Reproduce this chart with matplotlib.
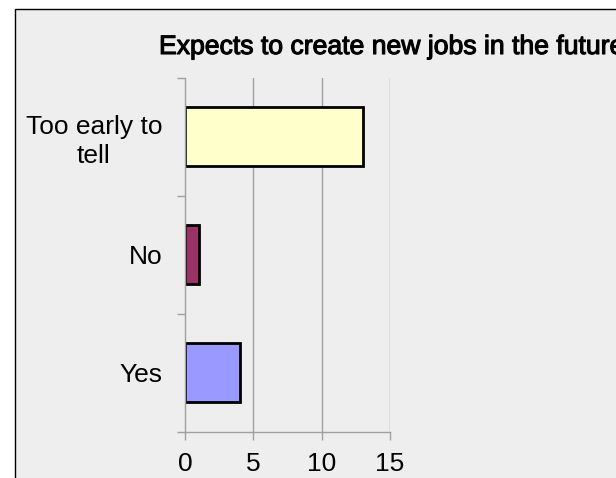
import matplotlib
matplotlib.use("Agg")
import matplotlib.pyplot as plt
import matplotlib.patheffects as pe
from matplotlib.patches import Rectangle

categories = ["Yes", "No", "Too early to\ntell"]
counts = [4, 1, 13]
bar_colors = ["#9999FF", "#993366", "#FFFFCC"]
x_ticks = [0, 5, 10, 15]
title = "Expects to create new jobs in the future"

plt.rcParams["font.family"] = ["Liberation Sans", "DejaVu Sans"]

W, H = 616, 478
fig = plt.figure(figsize=(W / 100, H / 100), dpi=100, facecolor="white")

# chart area panel with a thin black border
panel = Rectangle((15 / W, -0.1), 1.2, 1.1 - 9.5 / H, transform=fig.transFigure,
                  facecolor="#EEEEEE", edgecolor="black", linewidth=1.0, zorder=-5)
fig.patches.append(panel)

ax = fig.add_axes([185 / W, 1 - 431.5 / H, (390 - 185) / W, (431.5 - 78) / H])
ax.set_zorder(2)
ax.set_facecolor("#EEEEEE")

pos = list(range(len(categories)))
ax.barh(pos, counts, height=0.5, color=bar_colors, edgecolor="black",
        linewidth=2.0, zorder=3)

ax.set_xlim(0, 15)
ax.set_ylim(-0.5, len(categories) - 0.5)

grid_c = "#A0A0A0"
ax.set_xticks(x_ticks)
ax.set_xticklabels([str(t) for t in x_ticks])
ax.tick_params(axis="x", length=5.5, width=1.0, color=grid_c, labelsize=19, pad=9.5)
for t in x_ticks[1:]:
    ax.axvline(t, color=grid_c, linewidth=1.0, zorder=1)

ax.set_yticks(pos)
ax.set_yticklabels(categories, ha="right", multialignment="center",
                   linespacing=1.25)
ax.tick_params(axis="y", which="major", length=0, labelsize=19, pad=16.5)
ax.set_yticks([p - 0.5 for p in pos] + [len(categories) - 0.5], minor=True)
ax.tick_params(axis="y", which="minor", length=6, width=1.0, color=grid_c)

for s in ("top", "right"):
    ax.spines[s].set_visible(False)
for s in ("left", "bottom"):
    ax.spines[s].set_color(grid_c)
    ax.spines[s].set_linewidth(1.0)
ax.spines["left"].set_zorder(4)

ttl = fig.text(159 / W, 1 - 47 / H, title, fontsize=19,
               ha="left", va="center", zorder=5,
               path_effects=[pe.withStroke(linewidth=0.8, foreground="black")])
# scale the title so it runs just past the right edge of the figure
fig.canvas.draw()
w = ttl.get_window_extent().width
ttl.set_fontsize(19 * 466 / w)

fig.savefig("out.png", dpi=100, facecolor="white")
